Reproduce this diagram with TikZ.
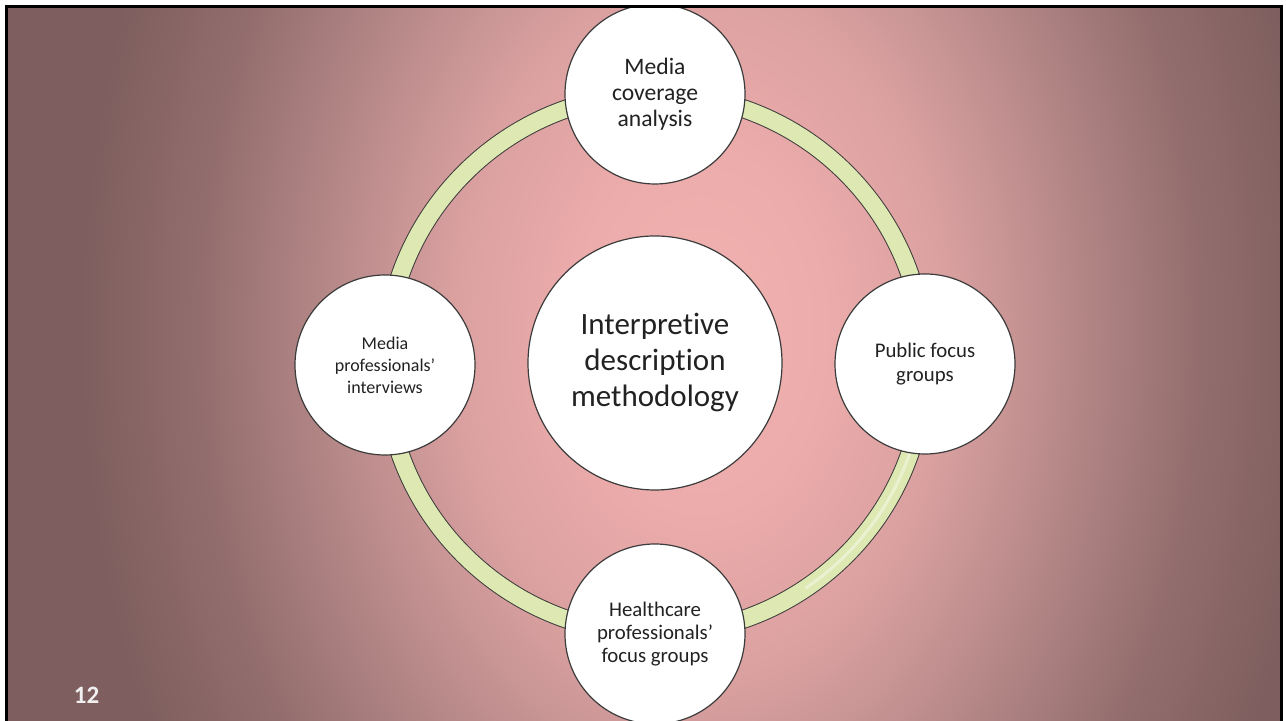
\documentclass[tikz,border=0pt]{standalone}
\usepackage{fontspec}
\setmainfont{Carlito}[Ligatures=NoCommon]
\definecolor{bgdark}{RGB}{126,94,94}
\definecolor{bgcA}{RGB}{240,178,176}
\definecolor{bgcB}{RGB}{236,172,171}
\definecolor{bgcC}{RGB}{218,160,160}
\definecolor{bgcD}{RGB}{182,136,136}
\definecolor{bgcE}{RGB}{148,110,110}
\definecolor{ringfill}{RGB}{222,232,178}
\definecolor{edgegray}{RGB}{60,60,60}
\definecolor{txt}{RGB}{34,34,34}
\pgfdeclareradialshading{bgrad}{\pgfpoint{0bp}{0bp}}{color(0bp)=(bgcA); color(5bp)=(bgcB); color(10bp)=(bgcC); color(15bp)=(bgcD); color(20bp)=(bgcE); color(25bp)=(bgdark); color(50bp)=(bgdark)}
\pgfdeclarelayer{bgl}
\pgfdeclarelayer{ringl}
\pgfdeclarelayer{fgl}
\pgfsetlayers{bgl,ringl,main,fgl}
\begin{document}
\begin{tikzpicture}[x=0.5pt,y=0.5pt,
  bubble/.style={circle, draw=edgegray, line width=0.6pt, fill=white, inner sep=0pt, text=txt, align=center, minimum size=90pt},
  hub/.style={bubble, minimum size=127pt},
  band/.style={draw=edgegray, line width=0.5pt, double=ringfill, double distance=8.5pt}]
\useasboundingbox (0,0) rectangle (1286,721);
\coordinate (rc) at (655,357);
\node[hub, font=\fontsize{15.5}{18}\selectfont] (hubc) at (655,358) {Interpretive\\description\\methodology};
\node[bubble, font=\fontsize{11.8}{13}\selectfont] (top) at (655,627) {Media\\coverage\\analysis};
\node[bubble, font=\fontsize{10.4}{11.7}\selectfont] (right) at (925,357) {Public focus\\groups};
\node[bubble, font=\fontsize{10.4}{11.3}\selectfont] (bottom) at (655,87) {Healthcare\\professionals’\\focus groups};
\node[bubble, font=\fontsize{9}{11}\selectfont] (left) at (385,356) {Media\\professionals’\\interviews};
\node[font=\fontsize{12.5}{15}\selectfont\bfseries, text=white!94!black] (num) at (86.5,26) {12};
\begin{pgfonlayer}{bgl}
\fill[white] (0,0) rectangle (1286,721);
\begin{scope}
\clip (5,0) rectangle (1283,716);
\fill[bgdark] (5,0) rectangle (1283,716);
\shade[shading=bgrad] (80,-499) rectangle (1320,1281);
\end{scope}
\end{pgfonlayer}
\begin{pgfonlayer}{ringl}
\draw[band] (top.center) to[out=0,in=90] (right.center);
\draw[band] (right.center) to[out=-90,in=0] (bottom.center);
\draw[band] (bottom.center) to[out=180,in=-90] (left.center);
\draw[band] (left.center) to[out=90,in=180] (top.center);
\draw[white, opacity=0.4, line width=1.5pt, line cap=round] ([shift={(-14:270)}]rc) arc[start angle=-14, end angle=-56, radius=270];
\end{pgfonlayer}
\begin{pgfonlayer}{fgl}
\fill[white] (0,716) rectangle (1286,721);
\fill[white] (0,0) rectangle (5,721);
\fill[white] (1283,0) rectangle (1286,721);
\draw[black, line width=1.5pt] (6.5,-10) -- (6.5,714.5) -- (1281.5,714.5) -- (1281.5,-10);
\end{pgfonlayer}
\end{tikzpicture}
\end{document}
